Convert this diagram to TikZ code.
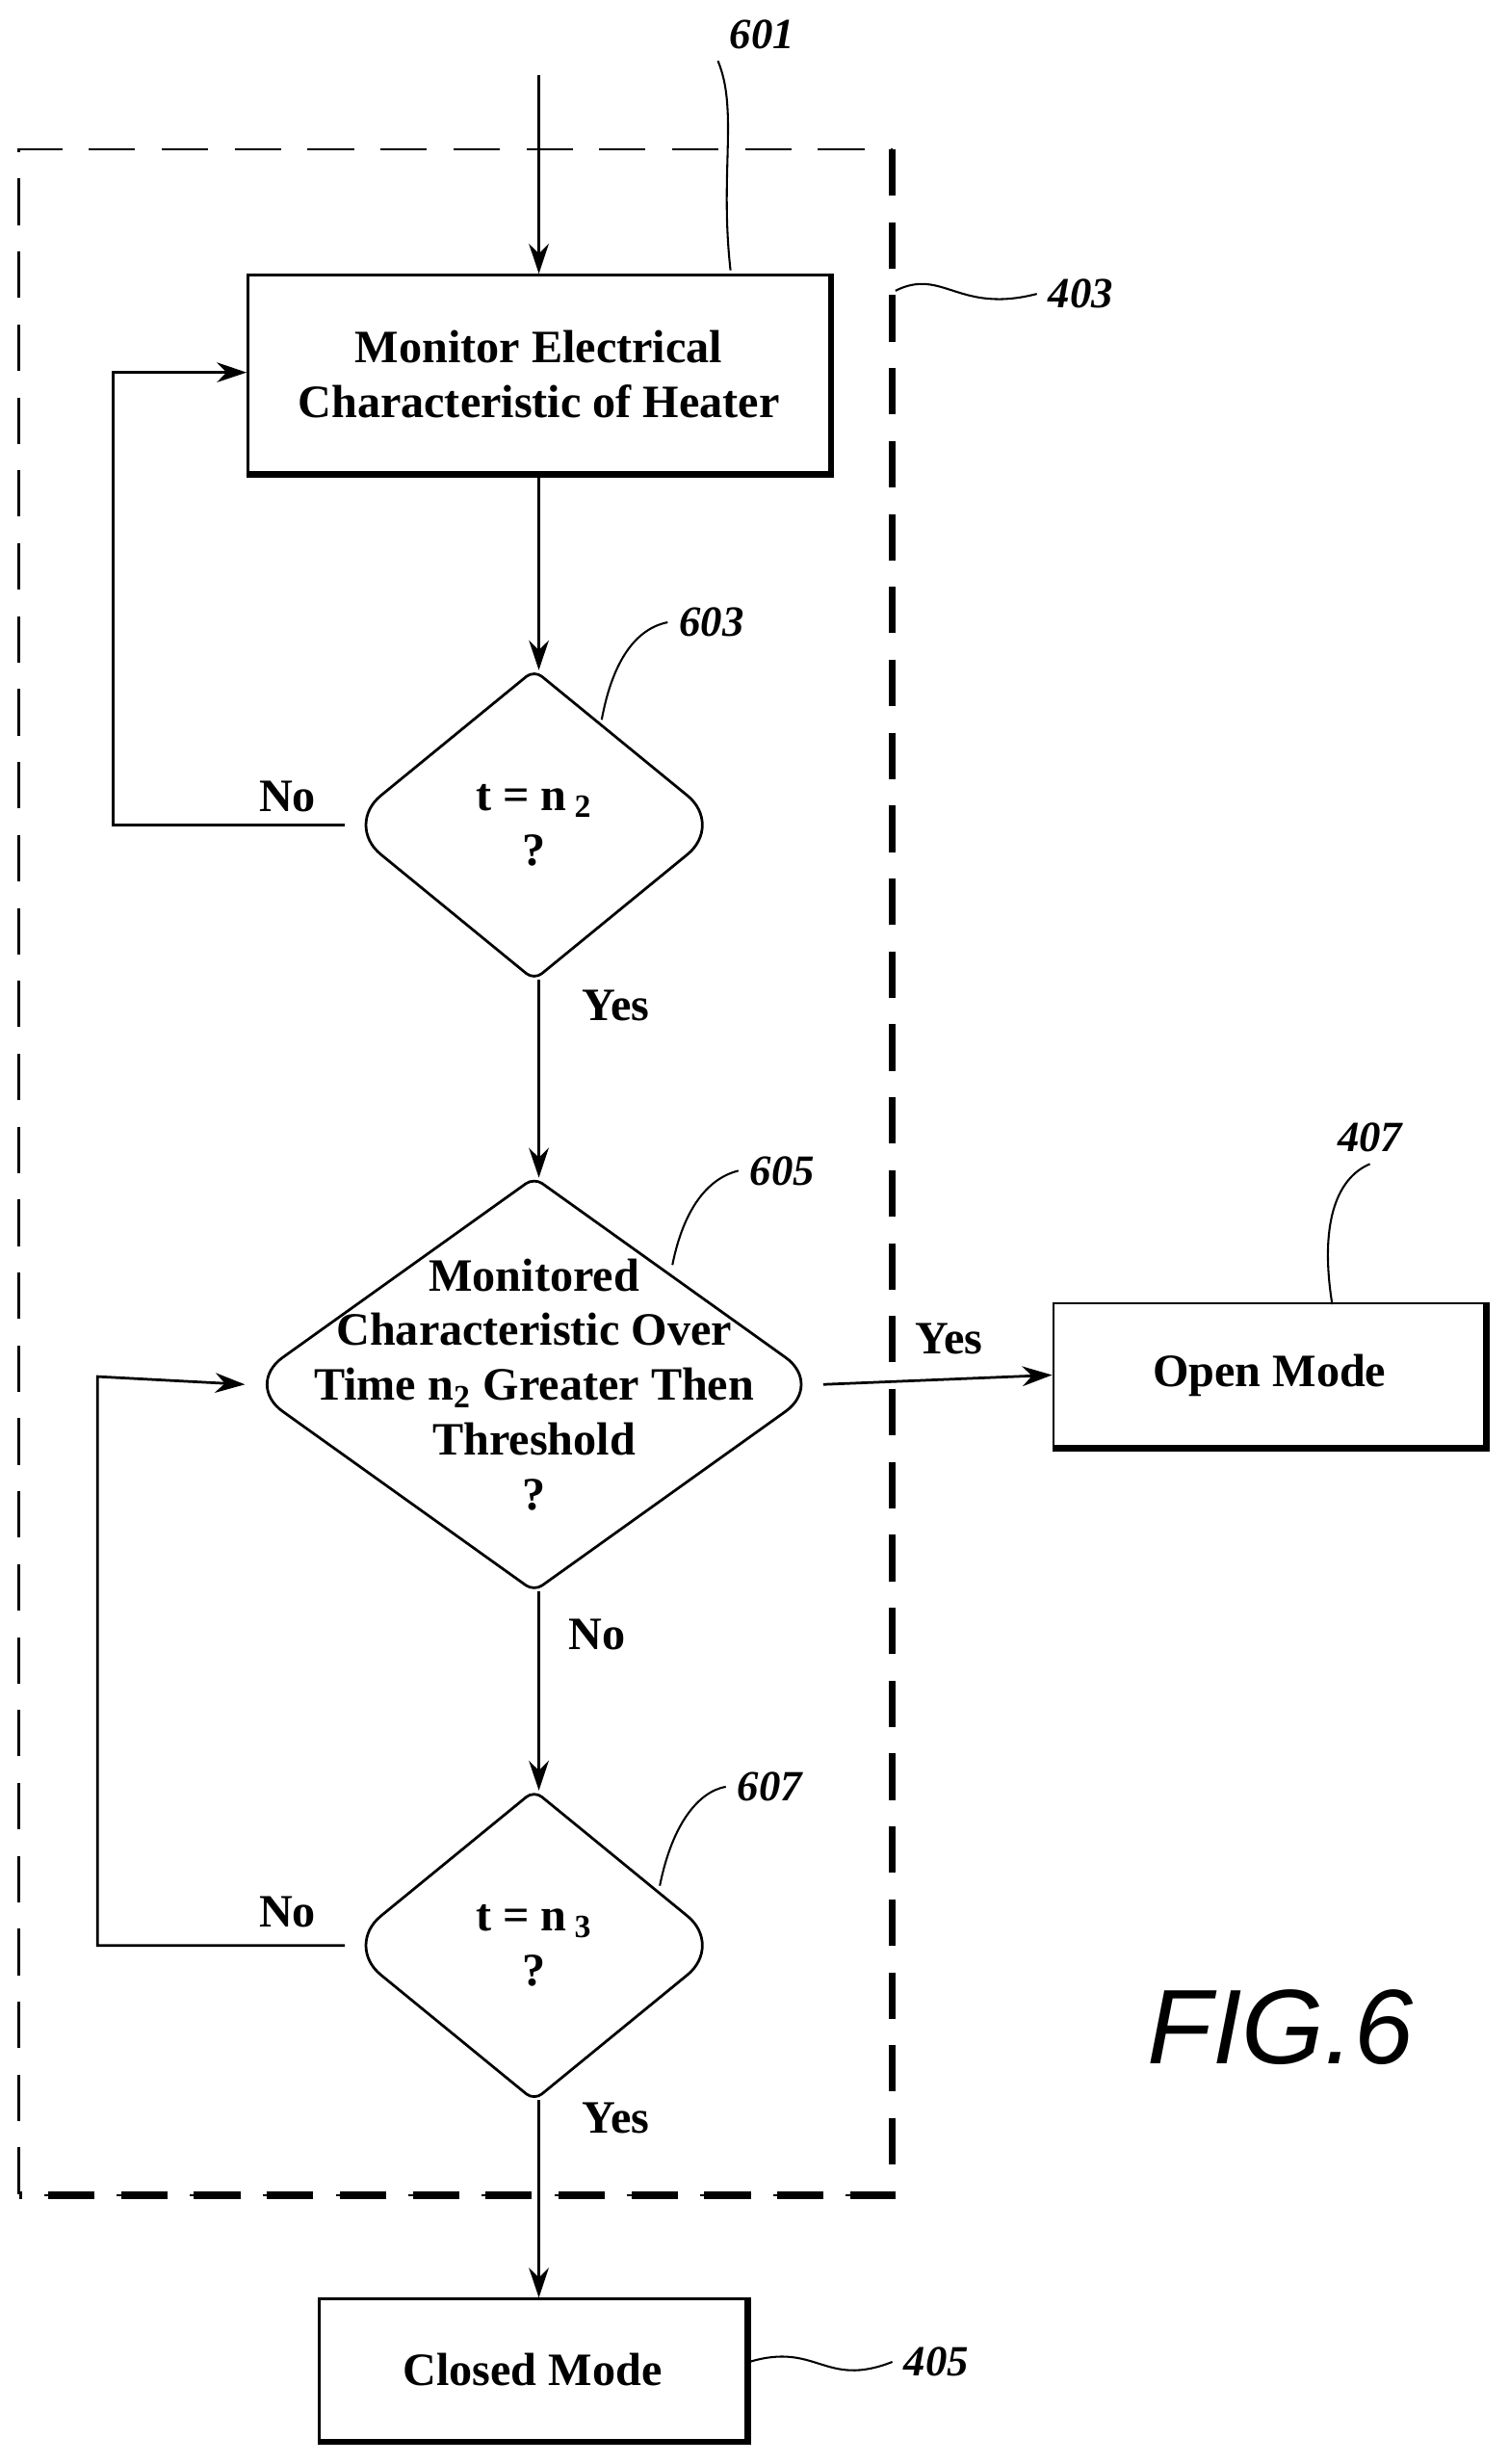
\documentclass[tikz,border=0pt]{standalone}
\usepackage{fontspec}
\setmainfont{Liberation Serif}
\newfontfamily\figfont{Liberation Sans}
\usetikzlibrary{shapes.geometric,arrows.meta}
\begin{document}
\begin{tikzpicture}[x=0.01667cm,y=-0.01667cm]
    \tikzstyle{arrow} = [thick, -{Stealth[length=9pt,width=6pt]}]
    \tikzstyle{box} = [rectangle, draw = black, thick, align=center, inner sep=0pt, font=\fontsize{14}{16.5}\selectfont\bfseries]
    \tikzstyle{dec} = [diamond, inner sep=0pt]
    \tikzstyle{txt} = [align=center, font=\fontsize{14}{16.5}\selectfont\bfseries]
    \tikzstyle{lbl} = [font=\fontsize{14}{16}\selectfont\bfseries]
    \tikzstyle{ref} = [font=\fontsize{13}{15}\selectfont\bfseries\itshape]
    \tikzstyle{lead} = [semithick]
    \useasboundingbox (0,0) rectangle (960,1568);

    % dashed frame 403
    \draw[thick, dash pattern=on 14pt off 8pt] (568,1397)--(12,1397)--(12,95)--(568,95);
    \draw[line width=2.2pt, dash pattern=on 14pt off 8pt] (568,95)--(568,1397)--(12,1397);

    \node[box, minimum width=6.17cm, minimum height=2.1cm](mon) at (343,238){Monitor Electrical\\Characteristic of Heater};
    \node[dec, minimum width=4cm, minimum height=3.27cm](t2) at (340,525){};
    \node[dec, minimum width=6.12cm, minimum height=4.37cm](over) at (340,881){};
    \node[dec, minimum width=4cm, minimum height=3.27cm](t3) at (340,1238){};
    \node[txt](t2-txt) at (t2){t = n\,\textsubscript{2}\\?};
    \node[txt](over-txt) at (over){Monitored\\Characteristic Over\\Time n\textsubscript{2} Greater Then\\Threshold\\?};
    \node[txt](t3-txt) at (t3){t = n\,\textsubscript{3}\\?};
    \node[box, minimum width=4.58cm, minimum height=1.52cm](open) at (808,875){Open Mode};
    \node[box, minimum width=4.53cm, minimum height=1.5cm](closed) at (339,1508){Closed Mode};
    \coordinate (in) at (343,48);

    % diamond outlines
    \foreach \d in {t2,over,t3}
        \draw[thick] (\d.north) [rounded corners=14pt] -- (\d.east) [rounded corners=3pt] -- (\d.south)
            [rounded corners=14pt] -- (\d.west) [rounded corners=3pt] -- cycle;

    % shadow edges
    \draw[line width=2pt] (mon.north east)--(mon.south east)--(mon.south west);
    \draw[line width=2pt] (open.north east)--(open.south east)--(open.south west);
    \draw[line width=2pt] (closed.north east)--(closed.south east)--(closed.south west);

    \draw[arrow] (in)--(mon.north -| in);
    \draw[arrow] (mon.south -| in)--(t2.north -| in);
    \draw[arrow] (t2.south -| in)--(over.north -| in);
    \draw[arrow] (over.south -| in)--(t3.north -| in);
    \draw[arrow] (t3.south -| in)--(closed.north -| in);
    \draw[arrow] (over.east)--(open.west);
    \draw[arrow] (t2.west)--(72,525)--(72,237)--(mon.west |- 0,237);
    \draw[arrow] (t3.west)--(62,1238)--(62,876)--(over.west);

    \node[lbl](no1) at (183,507){No};
    \node[lbl](yes1) at (392,640){Yes};
    \node[lbl](yes2) at (604,852){Yes};
    \node[lbl](no2) at (380,1040){No};
    \node[lbl](no3) at (183,1217){No};
    \node[lbl](yes3) at (392,1348){Yes};

    \node[ref](r601) at (485,22){601};
    \node[ref](r403) at (688,187){403};
    \node[ref](r603) at (453,396){603};
    \node[ref](r605) at (498,745){605};
    \node[ref](r407) at (872,724){407};
    \node[ref](r607) at (490,1137){607};
    \node[ref](r405) at (596,1503){405};
    \draw[lead] (465,172) .. controls (458,110) and (470,70) .. (r601.south west);
    \draw[lead] (570,185) .. controls (600,170) and (610,200) .. (r403.west);
    \draw[lead] (383,458) .. controls (390,420) and (405,400) .. (r603.west);
    \draw[lead] (428,805) .. controls (435,770) and (450,750) .. (r605.west);
    \draw[lead] (848,830) .. controls (840,780) and (850,750) .. (r407.south);
    \draw[lead] (420,1200) .. controls (428,1160) and (445,1140) .. (r607.west);
    \draw[lead] (477,1503) .. controls (520,1490) and (525,1520) .. (r405.west);

    \node[font=\figfont\itshape\fontsize{32}{36}\selectfont](fig) at (815,1290){FIG.6};
\end{tikzpicture}
\end{document}
